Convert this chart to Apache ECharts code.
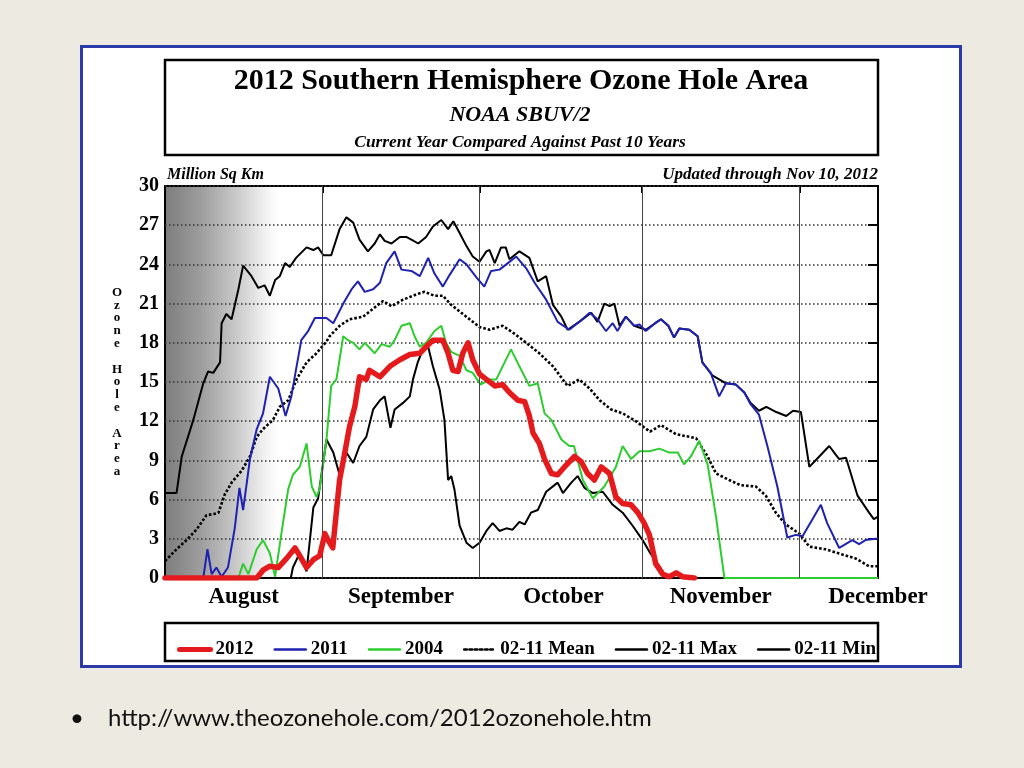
<!DOCTYPE html>
<html><head><meta charset="utf-8">
<script src="https://cdn.jsdelivr.net/npm/echarts@6.0.0/dist/echarts.min.js"></script>
<style>
html,body{margin:0;padding:0;background:#EDEBE1;width:1024px;height:768px;overflow:hidden;}
#panel{position:absolute;left:80px;top:45px;width:882px;height:623px;box-sizing:border-box;background:#fff;border:3px solid #2b3aa8;}
#chart{position:absolute;left:0;top:0;width:1024px;height:768px;}
#bul{position:absolute;left:70px;top:703px;font-family:Lato,"Open Sans",sans-serif;font-size:24px;line-height:28px;color:#111;}
#url{position:absolute;left:108px;top:703px;font-family:Lato,"Open Sans",sans-serif;font-size:24px;line-height:28px;color:#111;}
</style></head>
<body>
<div id="panel"></div>
<div id="chart"></div>
<div id="bul">•</div>
<div id="url">http://www.theozonehole.com/2012ozonehole.htm</div>
<script>
// x values: day index, 1 = Aug 2 ... 31 = Sep 1, 61 = Oct 1, 92 = Nov 1, 122 = Dec 1
const monthNames = ['August','September','October','November','December'];
const monthLabelDays = [16, 46, 77, 107, 137];
const monthStartDays = [31, 61, 92, 122];
const seriesNames = ['2012','2011','2004','02-11 Mean','02-11 Max','02-11 Min'];

const s2012 = [[1,0],[18.5,0],[19.7,0.6],[21,0.9],[22.6,0.8],[24.2,1.5],[25.8,2.3],[26.7,1.7],[28,0.8],[29.3,1.4],[30.5,1.7],[31.5,3.4],[32.1,2.9],[33,2.3],[34.3,7.5],[35.3,9.6],[36.2,11.6],[37.2,13.1],[38.1,15.4],[39.4,15.2],[40,15.9],[42,15.4],[43.9,16.2],[45.8,16.7],[47.7,17.1],[49.6,17.2],[50.8,17.7],[52.1,18.2],[54,18.2],[55,17.2],[55.9,15.9],[56.9,15.8],[57.8,17.2],[58.8,18],[59.7,16.7],[61,15.6],[62.3,15.2],[63.9,14.7],[65.4,14.8],[66.7,14.2],[68.3,13.6],[69.6,13.5],[70.5,12.4],[71.2,11.1],[72.4,10.3],[73.4,9.1],[74.7,8],[75.9,7.9],[77.2,8.5],[79.1,9.3],[80.4,8.9],[81.6,8],[82.9,7.5],[84.2,8.5],[85.8,8],[87,6.2],[88.3,5.7],[89.9,5.6],[91.2,5],[92.4,4.2],[93.4,3.3],[94.6,1.1],[95.9,0.3],[97.2,0.1],[98.5,0.4],[99.7,0.1],[102,0]];

const s2011 = [[1,0],[8.3,0],[9.1,2.2],[9.9,0.3],[10.8,0.8],[11.8,0.1],[13,0.8],[14.3,3.8],[15.2,6.9],[15.9,5.2],[17.2,9.1],[18.5,11.4],[19.7,12.6],[21,15.4],[22.6,14.5],[24,12.4],[25.1,13.9],[26.1,16.2],[27,18.2],[28.3,18.9],[29.6,19.9],[31.8,19.9],[33.1,19.5],[35,21],[36.6,22.1],[37.8,22.7],[39.1,21.9],[40.7,22.1],[42,22.6],[43.2,24.1],[44.8,25],[46.1,23.6],[48,23.5],[49.6,23.1],[51.2,24.5],[52.4,23.3],[54,22.3],[55.3,23.2],[57.2,24.4],[58.5,24],[60.4,23],[61.9,22.3],[63.2,23.5],[64.8,23.6],[66.1,24],[68,24.6],[69.9,23.7],[71.5,22.6],[73.7,21.3],[75.9,19.6],[78.1,19],[80,19.6],[82,20.3],[83.5,19.8],[85.1,18.9],[86.4,19.5],[87.3,18.9],[88.9,20],[90.5,19.3],[91.5,19.4],[92.7,18.9],[94.5,19.5],[95.6,19.8],[97,19.3],[98.1,18.4],[99.1,19.1],[101,19],[102.6,18.5],[103.5,16.5],[105.1,15.7],[106.7,13.9],[108,14.9],[109.9,14.8],[111.5,14.2],[112.7,13.3],[114.3,12.5],[115.9,10.1],[117.8,7],[119.7,3.1],[121.3,3.3],[122.6,3.2],[124.5,4.5],[126.1,5.6],[127.3,4.2],[129.6,2.3],[132.1,2.9],[133.4,2.6],[134.6,2.9],[136.6,3],[137,3]];

const s2004 = [[1,0],[15,0],[15.9,1.1],[16.9,0.3],[18.5,2.2],[19.7,2.9],[21,1.9],[22,0.1],[23.2,3.4],[24.5,6.8],[25.4,7.9],[26.7,8.5],[28,10.3],[29,7],[29.9,6.2],[30.5,6.8],[31.8,10.6],[32.7,14.7],[33.7,15.2],[35,18.5],[35.9,18.2],[36.9,18],[38.1,17.5],[39.1,18],[41,17.2],[42.3,17.9],[43.9,17.7],[44.8,18.2],[46.1,19.3],[47.7,19.5],[48.6,18.5],[49.6,17.7],[50.8,18],[52.4,18.9],[53.7,19.3],[54.6,18],[55.6,17.3],[57.2,17],[58.5,15.9],[59.7,15.7],[61.2,14.8],[62.9,15.2],[64.2,15.2],[65.4,16.2],[67,17.5],[68.6,16.2],[70.5,14.7],[72.1,14.9],[73.4,12.6],[74.7,12.1],[76.6,10.6],[78.1,10.1],[79,10.1],[80.7,7.5],[82.6,6.1],[84.8,7],[87,8.5],[88.3,10.1],[89.9,9.1],[91.5,9.7],[93.4,9.7],[95.3,9.9],[97.2,9.6],[98.8,9.6],[100,8.7],[101.3,9.3],[102.9,10.5],[104.5,8.7],[106.1,4.7],[107.7,0],[137,0]];

const sMean = [[1,1.3],[3.2,2.2],[5.1,2.9],[7,3.7],[8.9,4.8],[10.3,4.9],[11.2,5],[12.4,6.4],[13.7,7.3],[15.6,8.2],[17.2,9.3],[18.5,10.8],[19.7,11.4],[21.6,12.1],[22.9,13.1],[24.5,13.6],[26.1,15.2],[28,16.5],[29.9,17.2],[31.8,18.1],[32.4,18.5],[34.3,19.3],[36.2,19.8],[38.8,20],[41.3,20.8],[42.6,21.2],[44.2,20.8],[46.4,21.3],[48.9,21.7],[50.5,21.9],[52.4,21.6],[54,21.6],[55.6,20.9],[57.2,20.4],[59.1,19.8],[61,19.2],[62.9,19],[65.4,19.3],[67.3,18.8],[69.9,18],[72.4,17.2],[75,16.2],[77.8,14.7],[80,15.2],[82,14.5],[83.9,13.6],[86.1,12.9],[88.3,12.6],[90.8,12],[93.5,11.2],[95.6,11.7],[98.5,11],[102.3,10.7],[104.5,9.3],[106.1,8],[108.6,7.5],[110.8,7.1],[113.7,7],[115.6,6.3],[117.5,5],[119.4,4.1],[122,3.4],[123.9,2.4],[127,2.2],[130.2,1.8],[132.7,1.5],[135.3,0.9],[137,0.9]];

const sMax = [[1,6.5],[3.2,6.5],[4.2,9.3],[6.4,12.1],[8.3,14.9],[9.2,15.8],[10.2,15.7],[11.5,16.5],[11.8,19.5],[12.7,20.2],[13.7,19.8],[15,22.1],[15.9,23.9],[17.5,23.1],[18.8,22.2],[20,22.4],[21,21.6],[22,22.8],[22.9,23.1],[23.9,24.1],[24.8,23.8],[26,24.5],[28,25.3],[29.3,25.1],[30.2,25.3],[31.2,24.7],[32.7,24.7],[34.3,26.7],[35.6,27.6],[36.9,27.2],[38.1,25.9],[39.7,25],[41,25.6],[42,26.3],[42.9,25.8],[44.2,25.6],[45.8,26.1],[47,26.1],[48,25.9],[49.3,25.6],[50.8,26.1],[52.1,26.9],[53.7,27.4],[55,26.7],[56,27.3],[57.2,26.4],[58.5,25.4],[59.7,24.6],[61,24.2],[62.3,25],[62.9,25.1],[63.9,24.1],[65.1,25.3],[66,25.3],[66.7,24.4],[68.6,25],[70.5,24.5],[72.1,22.7],[73.7,23.1],[75,20.9],[76.6,20],[77.8,19],[80,19.6],[82.3,20.3],[83.5,19.6],[84.8,21],[85.8,20.8],[86.7,21],[87.7,19.3],[88.9,20],[90.5,19.3],[92.7,19],[94.5,19.5],[95.6,19.8],[97,19.3],[98.1,18.4],[99.1,19.1],[101,19],[102.6,18.5],[103.5,16.5],[105.4,15.5],[106.7,15.2],[108,14.9],[109.9,14.8],[111.5,14.2],[112.7,13.4],[114.3,12.8],[115.7,13.1],[117.6,12.7],[119.5,12.4],[120.8,12.8],[122.3,12.7],[123.9,8.5],[125.8,9.3],[127.7,10.1],[129,9.4],[129.6,9.1],[130.9,9.2],[133.1,6.3],[135.3,5],[136.2,4.5],[137,4.7]];

const sMin = [[1,0],[25,0],[25.4,0.8],[26.7,1.9],[28,0.5],[29.3,5.4],[30.2,6.1],[31.8,10.6],[33.1,9.6],[34.3,7.9],[35.6,9.6],[36.9,8.8],[38.1,10.1],[39.4,10.8],[40.7,12.9],[42,13.6],[42.9,13.9],[44,11.5],[44.8,12.9],[46.4,13.4],[47.7,13.9],[48.3,15.2],[49.2,16.5],[50.2,17.5],[51.2,17.7],[52.1,16.2],[53.4,14.4],[54.3,12.1],[55,7.5],[55.6,7.8],[56.2,6.8],[57.2,4],[58.5,2.7],[59.7,2.3],[61,2.7],[62.3,3.6],[63.5,4.2],[64.8,3.6],[66.1,3.8],[67.3,3.7],[68.6,4.3],[69.6,4.1],[70.8,5],[72.1,5.2],[73.7,6.6],[75.9,7.3],[76.9,6.5],[78.5,7.3],[79.7,7.8],[81,6.9],[82.6,6.5],[84.5,6.6],[86.4,5.6],[88.3,5],[90.2,4],[92.1,2.9],[93.4,2],[95.3,0.9],[96.6,0.1],[97,0],[137,0]];

const serif = '"Liberation Serif","DejaVu Serif",serif';
const chart = echarts.init(document.getElementById('chart'), null, {renderer:'canvas'});

function txt(text, x, y, font, align) {
  return {type:'text', x:x, y:y, z:10, style:{text:text, font:font, fill:'#000',
    align:align, verticalAlign:'middle', textAlign:align, textVerticalAlign:'middle'}};
}

const legendWidths = [5, 2.5, 2.5, 2.6, 2.5, 2.5];
const legendTypes = ['solid','solid','solid','dotted','solid','solid'];

const option = {
  animation:false,
  backgroundColor:'transparent',
  graphic:[
    {type:'rect', z:1, shape:{x:165,y:60,width:713,height:95}, style:{fill:'#fff', stroke:'#000', lineWidth:2.5}},
    {type:'rect', z:1, shape:{x:165,y:623,width:713,height:38}, style:{fill:'#fff', stroke:'#000', lineWidth:2.5}},
    txt('2012 Southern Hemisphere Ozone Hole Area', 521, 81, 'bold 30px '+serif, 'center'),
    txt('NOAA SBUV/2', 520, 115, 'italic bold 22px '+serif, 'center'),
    txt('Current Year Compared Against Past 10 Years', 520, 143, 'italic bold 17.4px '+serif, 'center'),
    txt('Million Sq Km', 167, 175, 'italic bold 16px '+serif, 'left'),
    txt('Updated through Nov 10, 2012', 878, 175, 'italic bold 17px '+serif, 'right')
  ],
  legend:{
    data:seriesNames.map(function(n,i){ return {name:n, lineStyle:{width:legendWidths[i], type:legendTypes[i], cap:'round'}}; }),
    left:172, top:635, itemWidth:31, itemHeight:14, itemGap:20,
    itemStyle:{opacity:0, color:'rgba(0,0,0,0)', borderColor:'rgba(0,0,0,0)', borderWidth:0},
    textStyle:{fontFamily:serif, fontWeight:'bold', fontSize:19, color:'#000'},
    selectedMode:false
  },
  grid:{left:165, right:146, top:186, bottom:190, show:true, borderColor:'#000', borderWidth:2,
    backgroundColor:new echarts.graphic.LinearGradient(0,0,1,0,[
      {offset:0,color:'#7c7c7c'},{offset:0.05,color:'#9c9c9c'},{offset:0.1,color:'#c8c8c8'},
      {offset:0.14,color:'#f0f0f0'},{offset:0.16,color:'#ffffff'},{offset:1,color:'#ffffff'}])},
  xAxis:[
    {type:'value', min:1, max:137,
      axisLine:{show:false, onZero:false}, splitLine:{show:false}, axisTick:{show:false},
      axisLabel:{customValues:monthLabelDays, showMaxLabel:true, showMinLabel:true, margin:8,
        formatter:function(v){ const i = monthLabelDays.indexOf(v); return i>=0 ? monthNames[i] : ''; },
        fontFamily:serif, fontWeight:'bold', fontSize:23, color:'#000'}},
    {type:'value', min:1, max:137, position:'top',
      axisLine:{show:false, onZero:false}, splitLine:{show:false}, axisLabel:{show:false},
      axisTick:{show:true, inside:true, length:7, customValues:monthStartDays, lineStyle:{color:'#000', width:2}}}
  ],
  yAxis:[
    {type:'value', min:0, max:30, interval:3,
      name:'Ozone Hole Area'.split('').join('\n'), nameLocation:'middle', nameRotate:0, nameGap:48,
      nameTextStyle:{fontFamily:serif, fontWeight:'bold', fontSize:13, lineHeight:12.8, color:'#000', align:'center'},
      axisLine:{show:false, onZero:false}, axisTick:{show:false},
      axisLabel:{fontFamily:serif, fontWeight:'bold', fontSize:20, color:'#000', margin:6},
      splitLine:{show:true, lineStyle:{color:'#333', width:1.5, type:[1.5,2.5]}}},
    {type:'value', min:0, max:30, interval:3, position:'right',
      axisLine:{show:false, onZero:false}, axisLabel:{show:false}, splitLine:{show:false},
      axisTick:{show:true, inside:true, length:10, lineStyle:{color:'#000', width:2}}}
  ],
  series:[
    {name:'02-11 Max', type:'line', data:sMax, showSymbol:false, symbol:'none', z:2,
      lineStyle:{color:'#000', width:2}, itemStyle:{color:'#000'},
      markLine:{silent:true, symbol:['none','none'], label:{show:false},
        lineStyle:{color:'#444', width:1, type:'solid'},
        data:monthStartDays.map(function(d){return {xAxis:d};})}},
    {name:'02-11 Min', type:'line', data:sMin, showSymbol:false, symbol:'none', z:2,
      lineStyle:{color:'#000', width:2}, itemStyle:{color:'#000'}},
    {name:'02-11 Mean', type:'line', data:sMean, showSymbol:false, symbol:'none', z:3,
      lineStyle:{color:'#000', width:2.6, type:[2.6,2]}, itemStyle:{color:'#000'}},
    {name:'2004', type:'line', data:s2004, showSymbol:false, symbol:'none', z:4,
      lineStyle:{color:'#2ecc2e', width:2}, itemStyle:{color:'#2ecc2e'}},
    {name:'2011', type:'line', data:s2011, showSymbol:false, symbol:'none', z:5,
      lineStyle:{color:'#1f22b0', width:2}, itemStyle:{color:'#1f22b0'}},
    {name:'2012', type:'line', data:s2012, showSymbol:false, symbol:'none', z:6,
      lineStyle:{color:'#e41a1c', width:5.5, cap:'round', join:'round'}, itemStyle:{color:'#e41a1c'}}
  ]
};
chart.setOption(option);
</script>
</body></html>
